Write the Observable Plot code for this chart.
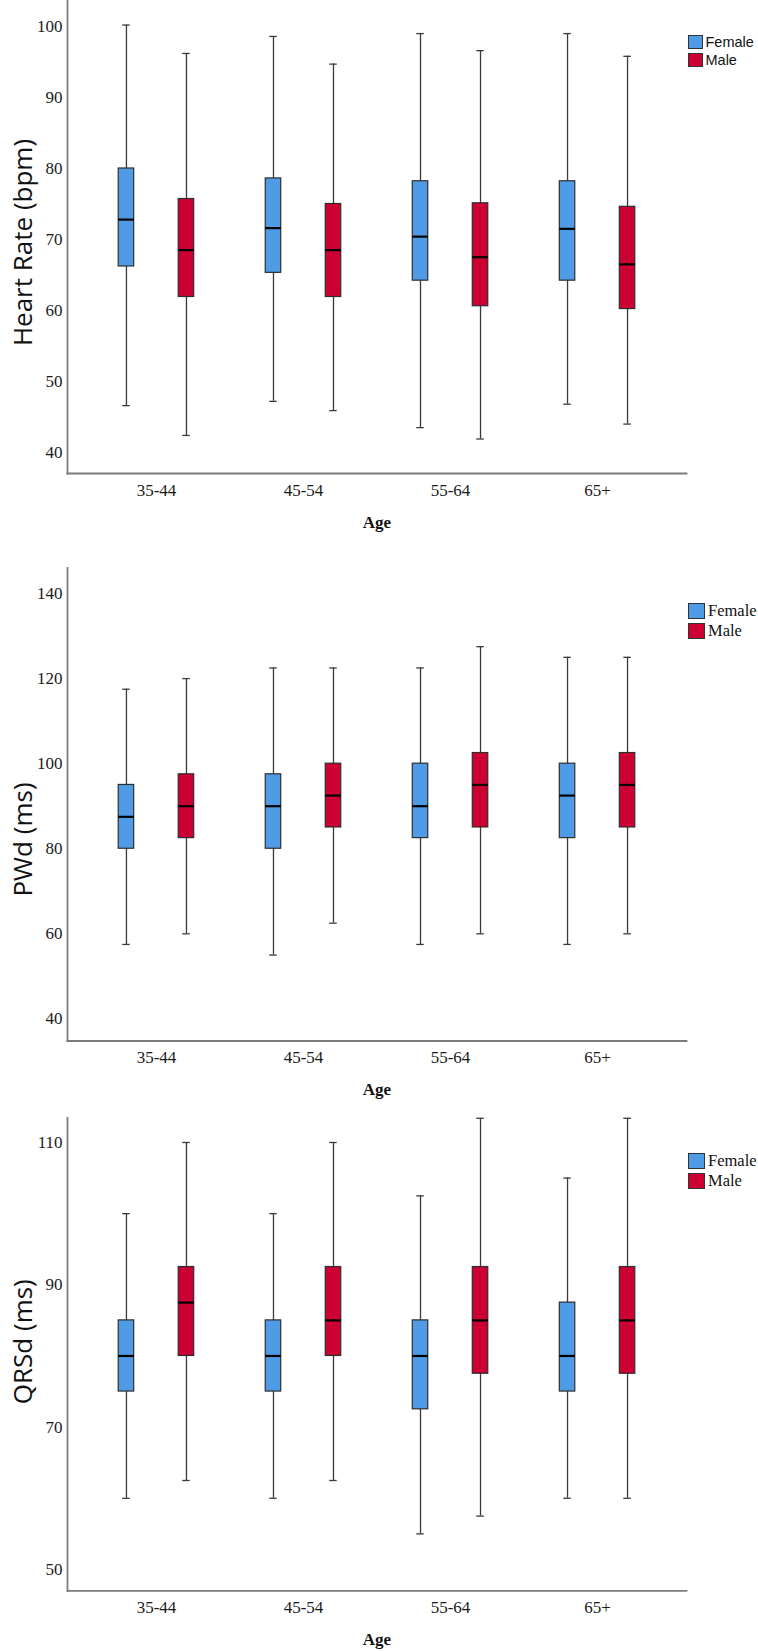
<!DOCTYPE html>
<html>
<head>
<meta charset="utf-8">
<script src="https://cdn.jsdelivr.net/npm/d3@7"></script>
<script src="https://cdn.jsdelivr.net/npm/@observablehq/plot@0.6"></script>
<style>
  body { margin: 0; background: #fff; }
  #chart { position: relative; width: 758px; height: 1651px; }
  .panel { position: absolute; left: 0; }
  .legend { position: absolute; left: 688px; color: #111; }
  .legend .row { display: flex; align-items: center; white-space: nowrap; }
  .legend .sw { display: inline-block; box-sizing: border-box; border: 1.2px solid #333; }
</style>
</head>
<body>
<div id="chart"></div>
<script>
const ages = ["35-44", "45-54", "55-64", "65+"];
const sexes = ["Female", "Male"];
const colours = ["#4f9be5", "#cc0033"];

// each row: [min, q1, median, q3, max] for one age group
const hrFemale = [[46.6, 66.2, 72.8, 80.0, 100.2], [47.2, 65.3, 71.6, 78.6, 98.6], [43.5, 64.2, 70.4, 78.2, 99.0], [46.8, 64.2, 71.5, 78.2, 99.0]];
const hrMale = [[42.4, 61.9, 68.5, 75.7, 96.2], [45.9, 61.9, 68.5, 75.0, 94.7], [41.9, 60.6, 67.5, 75.1, 96.6], [44.0, 60.2, 66.5, 74.6, 95.8]];
const hrTicks = [40, 50, 60, 70, 80, 90, 100];

const pwdFemale = [[57.5, 80, 87.5, 95, 117.5], [55, 80, 90, 97.5, 122.5], [57.5, 82.5, 90, 100, 122.5], [57.5, 82.5, 92.5, 100, 125]];
const pwdMale = [[60, 82.5, 90, 97.5, 120], [62.5, 85, 92.5, 100, 122.5], [60, 85, 95, 102.5, 127.5], [60, 85, 95, 102.5, 125]];
const pwdTicks = [40, 60, 80, 100, 120, 140];

const qrsFemale = [[60, 75, 80, 85, 100], [60, 75, 80, 85, 100], [55, 72.5, 80, 85, 102.5], [60, 75, 80, 87.5, 105]];
const qrsMale = [[62.5, 80, 87.5, 92.5, 110], [62.5, 80, 85, 92.5, 110], [57.5, 77.5, 85, 92.5, 113.4], [60, 77.5, 85, 92.5, 113.4]];
const qrsTicks = [50, 70, 90, 110];

const PLOT_H = 473;   // height of the plotting frame, same for all three
const FX_PAD = 0.105; // outer padding of the age bands

function toRows(female, male){
    var out = [];
    for (var i = 0; i < ages.length; i++){
        [female, male].forEach(function(s, j){
            var v = s[i];
            out.push({age: ages[i], sex: sexes[j], min: v[0], q1: v[1], med: v[2], q3: v[3], max: v[4]});
        });
    }
    return out;
}

function drawPanel(p){
    const data = toRows(p.female, p.male);
    const serif = "'Liberation Serif', 'Times New Roman', serif";
    const ml = 67, mr = 72;
    // facets (and super marks) start after the outer band padding; stretch back to the margins
    const gap = (758 - ml - mr) / (ages.length + 2 * FX_PAD) * FX_PAD;
    const axisLine = {facet: "super", stroke: "#7c7c7c", strokeWidth: 1.8, insetLeft: -gap, insetRight: -gap};
    const chart = Plot.plot({
        width: 758,
        height: p.height,
        marginLeft: ml,
        marginRight: mr,
        marginTop: p.marginTop,
        marginBottom: p.height - p.marginTop - PLOT_H,
        style: {fontFamily: serif, fontSize: "17px", color: "#222", background: "transparent"},
        fx: {domain: ages, paddingInner: 0, paddingOuter: FX_PAD, round: false},
        x: {domain: sexes, paddingInner: 0.742, paddingOuter: 0.596, round: false, axis: null},
        y: {domain: p.domain},
        color: {domain: sexes, range: colours},
        marks: [
            Plot.frame({...axisLine, anchor: "left"}),
            Plot.frame({...axisLine, anchor: "bottom"}),
            Plot.axisY({ticks: p.ticks, tickSize: 0, tickPadding: 5 + gap, label: null, fontSize: 17, fill: "#1a1a1a"}),
            Plot.axisFx({anchor: "bottom", tickSize: 0, tickPadding: 10, label: null, fontSize: 17, fill: "#1a1a1a"}),
            // whiskers and caps
            Plot.ruleX(data, {fx: "age", x: "sex", y1: "min", y2: "max", stroke: "#3a3a3a", strokeWidth: 1.3}),
            Plot.tickY(data, {fx: "age", x: "sex", y: "min", insetLeft: 4, insetRight: 4, stroke: "#3a3a3a", strokeWidth: 1.3}),
            Plot.tickY(data, {fx: "age", x: "sex", y: "max", insetLeft: 4, insetRight: 4, stroke: "#3a3a3a", strokeWidth: 1.3}),
            // boxes
            Plot.barY(data, {fx: "age", x: "sex", y1: "q1", y2: "q3", fill: "sex", stroke: "#2e2e2e", strokeWidth: 1.2}),
            Plot.tickY(data, {fx: "age", x: "sex", y: "med", stroke: "#000", strokeWidth: 2.2}),
            // titles
            Plot.text([p.ylabel], {facet: "super", text: d => d, frameAnchor: "left", rotate: -90,
                       textAnchor: "middle", lineAnchor: "middle", dx: -43.6 - gap, dy: p.ylabelDy,
                       fontFamily: "'Open Sans', sans-serif", fontSize: 26, fill: "#111"}),
            Plot.text(["Age"], {facet: "super", text: d => d, frameAnchor: "bottom",
                       textAnchor: "middle", lineAnchor: "middle", dy: 49,
                       fontWeight: "bold", fontSize: 17, fill: "#111"})
        ]
    });
    const wrap = document.createElement("div");
    wrap.className = "panel";
    wrap.style.top = p.top + "px";
    wrap.appendChild(chart);
    document.getElementById("chart").appendChild(wrap);

    // legend, html so the text stays text
    const lg = document.createElement("div");
    lg.className = "legend";
    lg.style.top = (p.top + p.marginTop + 33) + "px";
    lg.style.fontFamily = p.legendFont;
    lg.style.fontSize = p.legendSize + "px";
    sexes.forEach(function(s, i){
        const row = document.createElement("div");
        row.className = "row";
        row.style.height = p.legendRow + "px";
        const sw = document.createElement("span");
        sw.className = "sw";
        sw.style.width = p.swatch[0] + "px";
        sw.style.height = p.swatch[1] + "px";
        sw.style.background = colours[i];
        sw.style.marginRight = "3px";
        const t = document.createElement("span");
        t.textContent = s;
        row.appendChild(sw);
        row.appendChild(t);
        lg.appendChild(row);
    });
    document.getElementById("chart").appendChild(lg);
}

drawPanel({female: hrFemale, male: hrMale, ticks: hrTicks, domain: [37.04, 103.66],
           ylabel: "Heart Rate (bpm)", ylabelDy: 5.5,
           top: 0, height: 543, marginTop: 0,
           legendFont: "'Liberation Sans', Arial, sans-serif", legendSize: 14.5, legendRow: 17.7, swatch: [14.5, 14]});
drawPanel({female: pwdFemale, male: pwdMale, ticks: pwdTicks, domain: [34.8, 146.0],
           ylabel: "PWd (ms)", ylabelDy: 35,
           top: 543, height: 567, marginTop: 24.5,
           legendFont: "'Liberation Serif', 'Times New Roman', serif", legendSize: 16.5, legendRow: 20.5, swatch: [17, 16]});
drawPanel({female: qrsFemale, male: qrsMale, ticks: qrsTicks, domain: [47.0, 113.47],
           ylabel: "QRSd (ms)", ylabelDy: -12.6,
           top: 1110, height: 541, marginTop: 7.3,
           legendFont: "'Liberation Serif', 'Times New Roman', serif", legendSize: 16.5, legendRow: 20.5, swatch: [17, 16]});
</script>
</body>
</html>
